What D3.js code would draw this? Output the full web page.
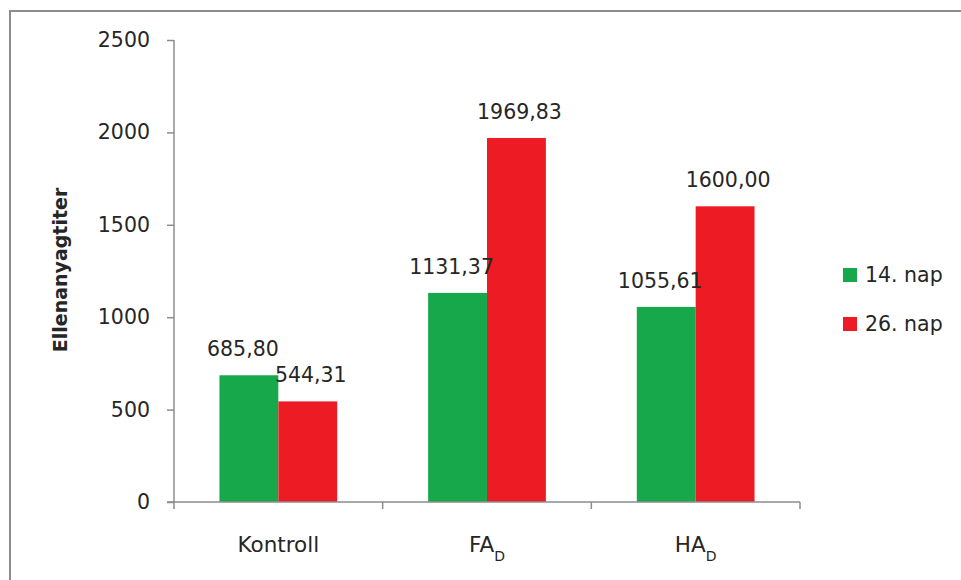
<!DOCTYPE html>
<html>
<head>
<meta charset="utf-8">
<script src="https://cdn.jsdelivr.net/npm/d3@7"></script>
<style>
  body { margin: 0; background: #fff; }
  text { font-family: "DejaVu Sans", sans-serif; fill: #262626; }
</style>
</head>
<body>
<div id="chart"></div>
<script>
// Data
const categories = ["Kontroll", "FA", "HA"];
const categorySubs = ["", "D", "D"];
const seriesNames = ["14. nap", "26. nap"];
const day14 = [685.80, 1131.37, 1055.61];
const day26 = [544.31, 1969.83, 1600.00];
const yTicks = [0, 500, 1000, 1500, 2000, 2500];
const colors = ["#17a84b", "#ed1c24"];

const W = 961, H = 580;
const plot = { left: 174, right: 800, top: 40, bottom: 502 };

const svg = d3.select("#chart").append("svg")
  .attr("width", W).attr("height", H);

// outer frame
svg.append("path")
  .attr("d", `M10,${H} L10,11 L${W},11`)
  .attr("fill", "none").attr("stroke", "#8c8c8c").attr("stroke-width", 2);

const x0 = d3.scaleBand().domain(categories).range([plot.left, plot.right]).paddingInner(0).paddingOuter(0);
const x1 = d3.scaleBand().domain(seriesNames).range([0, x0.bandwidth()]).paddingInner(0).paddingOuter(0.772);
const y = d3.scaleLinear().domain([0, 2500]).range([plot.bottom, plot.top]);

const rows = categories.map((c, i) => ({ cat: c, vals: [day14[i], day26[i]] }));

// bars
const groups = svg.append("g").selectAll("g").data(rows).join("g")
  .attr("transform", d => `translate(${x0(d.cat)},0)`);
groups.selectAll("rect").data(d => d.vals.map((v, j) => ({ v, j }))).join("rect")
  .attr("x", d => x1(seriesNames[d.j]))
  .attr("width", x1.bandwidth())
  .attr("y", d => y(d.v))
  .attr("height", d => y(0) - y(d.v))
  .attr("fill", d => colors[d.j]);

// value labels
const fmt = v => d3.format(".2f")(v).replace(".", ",");
groups.selectAll("text.val").data(d => d.vals.map((v, j) => ({ v, j }))).join("text")
  .attr("class", "val")
  .attr("x", d => x1(seriesNames[d.j]) + x1.bandwidth() / 2 + (d.j === 0 ? -6 : 3))
  .attr("y", d => y(d.v) - 19)
  .attr("text-anchor", "middle")
  .style("font-size", "20.5px")
  .text(d => fmt(d.v));

// y axis
const yAxis = svg.append("g")
  .attr("transform", `translate(${plot.left},0)`)
  .call(d3.axisLeft(y).tickValues(yTicks).tickSize(7).tickPadding(17).tickFormat(d3.format("d")));
yAxis.select(".domain").attr("stroke", "#8c8c8c").attr("stroke-width", 1.5)
  .attr("d", `M0,${plot.top}V${plot.bottom}`);
yAxis.selectAll(".tick line").attr("stroke", "#8c8c8c").attr("stroke-width", 1.5);
yAxis.selectAll(".tick text").style("font-size", "20.5px").attr("fill", "#262626")
  .style("font-family", "DejaVu Sans, sans-serif");

// x axis
const xAxis = svg.append("g")
  .attr("transform", `translate(0,${plot.bottom})`);
xAxis.append("line")
  .attr("x1", plot.left - 7).attr("x2", plot.right)
  .attr("stroke", "#8c8c8c").attr("stroke-width", 1.5);
const boundaries = categories.map(c => x0(c)).concat([plot.right]);
xAxis.selectAll("line.tk").data(boundaries).join("line")
  .attr("class", "tk")
  .attr("x1", d => d).attr("x2", d => d).attr("y1", 0).attr("y2", 7)
  .attr("stroke", "#8c8c8c").attr("stroke-width", 1.5);
const catText = xAxis.selectAll("text.cat").data(categories).join("text")
  .attr("class", "cat")
  .attr("x", d => x0(d) + x0.bandwidth() / 2)
  .attr("y", 50)
  .attr("text-anchor", "middle")
  .style("font-size", "21.5px");
catText.append("tspan").text(d => d);
catText.append("tspan")
  .attr("dy", 9)
  .style("font-size", "14px")
  .text((d, i) => categorySubs[i]);

// y axis title
svg.append("text")
  .attr("transform", "translate(67,270) rotate(-90)")
  .attr("text-anchor", "middle")
  .style("font-size", "19px")
  .style("font-weight", "bold")
  .attr("fill", "#000")
  .text("Ellenanyagtiter");

// legend
const legend = svg.append("g").selectAll("g").data(seriesNames).join("g")
  .attr("transform", (d, i) => `translate(843,${268 + i * 49})`);
legend.append("rect")
  .attr("width", 14).attr("height", 14)
  .attr("fill", (d, i) => colors[i]);
legend.append("text")
  .attr("x", 22).attr("y", 14)
  .style("font-size", "20.5px")
  .text(d => d);
</script>
</body>
</html>
